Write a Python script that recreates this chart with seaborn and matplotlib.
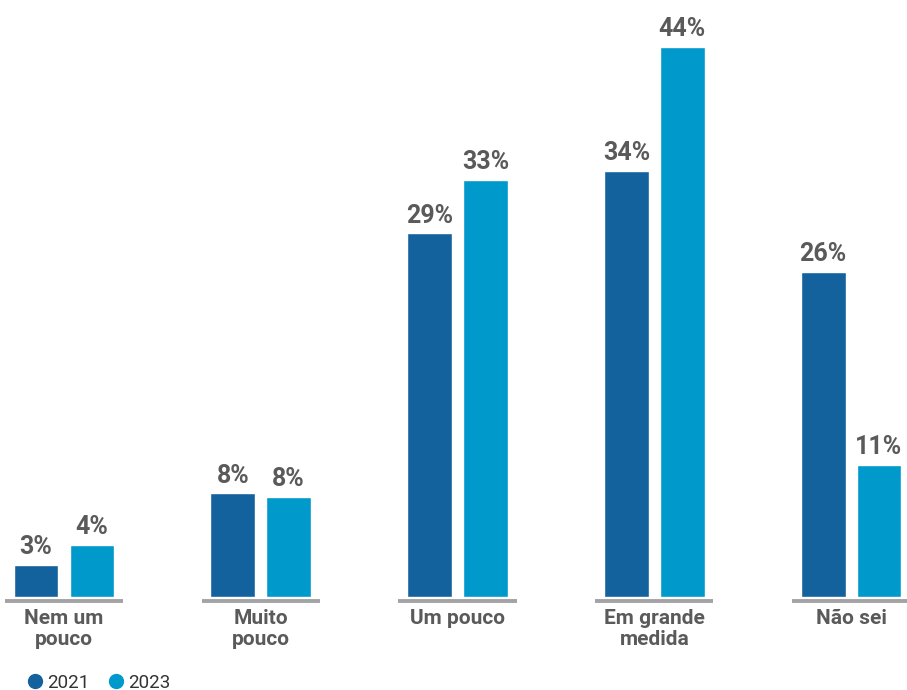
import matplotlib
matplotlib.use("Agg")
import matplotlib.pyplot as plt
from matplotlib.lines import Line2D
import seaborn as sns
import pandas as pd

# Survey answers and share of respondents per year (%)
categories = ["Nem um\npouco", "Muito\npouco", "Um pouco", "Em grande\nmedida", "Não sei"]
years = ["2021", "2023"]
values_2021 = [2.6, 8.3, 29.1, 34.1, 26.0]
values_2023 = [4.2, 8.0, 33.4, 44.0, 10.6]

colors = {"2021": "#13629e", "2023": "#0099cc"}
text_gray = "#5a5a5a"

df = pd.DataFrame({
    "categoria": categories * 2,
    "ano": ["2021"] * len(categories) + ["2023"] * len(categories),
    "valor": values_2021 + values_2023,
})

sns.set_theme(style="white")
plt.rcParams["font.family"] = ["Roboto", "DejaVu Sans"]

fig = plt.figure(figsize=(9.07, 6.9), dpi=100)
ax = fig.add_axes([0, 0, 1, 1])

sns.barplot(data=df, x="categoria", y="valor", hue="ano", order=categories,
            hue_order=years, palette=colors, width=0.568, gap=0.2,
            saturation=1, legend=False, ax=ax)

for cont in ax.containers:
    ax.bar_label(cont, labels=[f"{round(v)}%" for v in cont.datavalues],
                 padding=4, fontsize=18, fontweight="bold", color=text_gray)

# Baseline segment and label under each group
for i, cat in enumerate(categories):
    ax.plot([i - 0.30, i + 0.30], [-0.32, -0.32], color="#a3a3a6", lw=2.8,
            solid_capstyle="butt", clip_on=False)
    ax.text(i, -0.95, cat, ha="center", va="top", fontsize=15,
            fontweight="bold", color=text_gray, linespacing=1.12)

ax.set_xlim(-0.325, 4.284)
ax.set_ylim(-7.44, 47.76)
ax.axis("off")

handles = [Line2D([0], [0], marker="o", ls="none", markersize=10,
                  markerfacecolor=colors[y], markeredgecolor=colors[y]) for y in years]
fig.legend(handles, years, loc="lower left", bbox_to_anchor=(0.01, -0.027),
           ncol=2, frameon=False, handletextpad=0.15, columnspacing=0.9,
           handlelength=1.0, prop={"size": 13.5}, labelcolor="#333333")

fig.savefig("out.png", dpi=100)
